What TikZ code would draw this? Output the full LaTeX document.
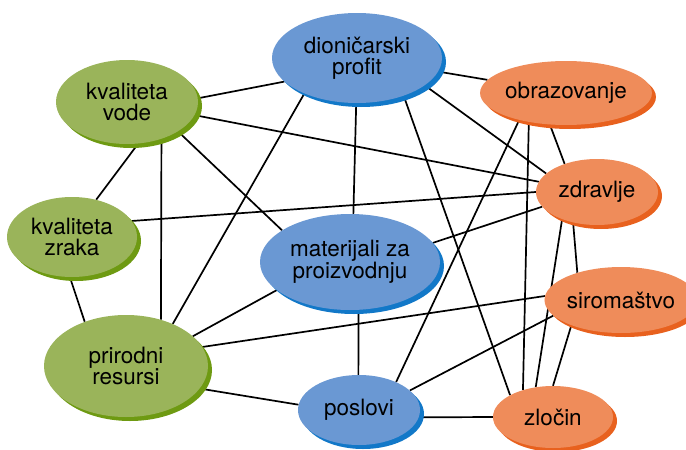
\documentclass[tikz,border=0pt]{standalone}
\usepackage{fontspec}
\setmainfont{TeX Gyre Heros}
\usetikzlibrary{shapes.geometric,shadows,backgrounds}
\definecolor{grnfill}{HTML}{9AB45A}
\definecolor{grnshadow}{HTML}{6E9A12}
\definecolor{blufill}{HTML}{6A98D3}
\definecolor{blushadow}{HTML}{1278C8}
\definecolor{orgfill}{HTML}{EF8C5A}
\definecolor{orgshadow}{HTML}{E8611E}

\begin{document}
\begin{tikzpicture}[x=1pt,y=-1pt]
\tikzstyle{topic}=[ellipse,inner sep=0pt,align=center,font=\fontsize{22.5}{21}\selectfont]
\tikzstyle{nature}=[topic,fill=grnfill,general shadow={fill=grnshadow,shadow xshift=4pt,shadow yshift=-4pt}]
\tikzstyle{money}=[topic,fill=blufill,general shadow={fill=blushadow,shadow xshift=4pt,shadow yshift=-4pt}]
\tikzstyle{society}=[topic,fill=orgfill,general shadow={fill=orgshadow,shadow xshift=4pt,shadow yshift=-4pt}]
\tikzstyle{link}=[line width=1.7pt]
\useasboundingbox (0,0) rectangle (686,450);
% green
\node [nature,minimum width=142,minimum height=84] (voda) at (127,102) {kvaliteta\\vode};
\node [nature,minimum width=130,minimum height=80] (zrak) at (72,237) {kvaliteta\\zraka};
\node [nature,minimum width=164,minimum height=102] (resursi) at (126,366) {prirodni\\resursi};
% blue
\node [money,minimum width=170,minimum height=90] (profit) at (357,58) {dioničarski\\profit};
\node [money,minimum width=180,minimum height=96] (materijali) at (350,262) {materijali za\\proizvodnju};
\node [money,minimum width=122,minimum height=70] (poslovi) at (359,410) {poslovi};
% orange
\node [society,minimum width=158,minimum height=64] (obraz) at (566,93) {obrazovanje};
\node [society,minimum width=122,minimum height=66] (zdravlje) at (597,192) {zdravlje};
\node [society,minimum width=124,minimum height=66] (sirom) at (621,300) {siromaštvo};
\node [society,minimum width=120,minimum height=62] (zlocin) at (553,417) {zločin};
% links
\begin{scope}[on background layer]
\draw [link] (voda.3) -- (profit.198);
\draw [link] (voda.-11) -- (zdravlje.170);
\draw [link] (voda.-75) -- (zrak.57);
\draw [link] (voda.-47) -- (resursi.53);
\draw [link] (voda.-30) -- (materijali.155);
\draw [link] (profit) -- (obraz);
\draw [link] (profit.-22) -- (zdravlje.160);
\draw [link] (profit.214) -- (resursi.42);
\draw [link] (profit.-91) -- (materijali.86);
\draw [link] (profit.-39) -- (zlocin.153);
\draw [link] (zrak.15) -- (zdravlje.west);
\draw [link] (zrak.-93) -- (resursi.133);
\draw [link] (obraz.243) -- (zdravlje.139);
\draw [link] (obraz.210) -- (poslovi.37);
\draw [link] (obraz.218) -- (zlocin.138);
\draw [link] (zdravlje.195) -- (materijali.13);
\draw [link] (zdravlje.218) -- (zlocin.120);
\draw [link] (zdravlje.232) -- (sirom.148);
\draw [link] (sirom.177) -- (resursi.14);
\draw [link] (sirom.193) -- (poslovi.21);
\draw [link] (sirom.207) -- (zlocin.north);
\draw [link] (materijali.201) -- (resursi.24);
\draw [link] (materijali.-80) -- (poslovi.91);
\draw [link] (resursi.-17) -- (poslovi.175);
\draw [link] (poslovi.-7) -- (zlocin.west);
\end{scope}
\end{tikzpicture}
\end{document}
